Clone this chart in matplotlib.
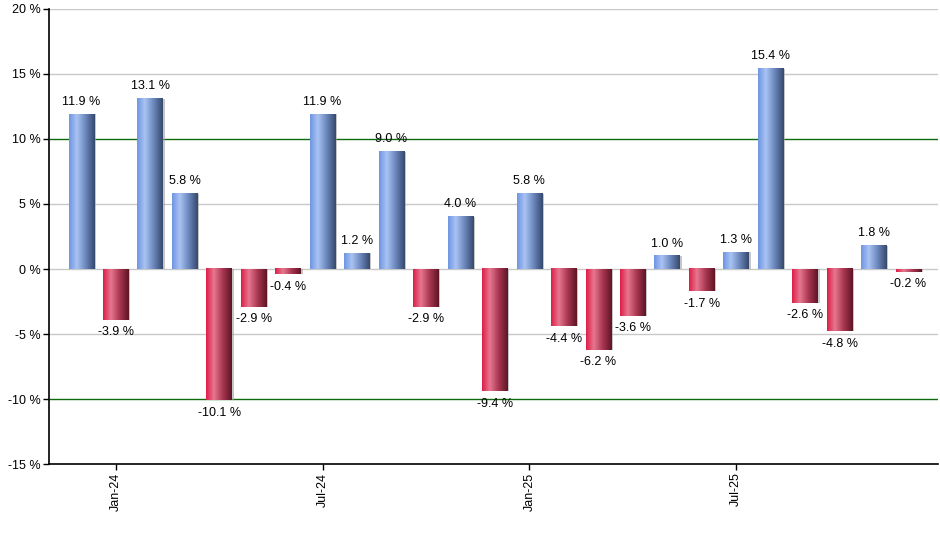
import numpy as np
import matplotlib.pyplot as plt
from matplotlib.colors import LinearSegmentedColormap

plt.rcParams['font.family'] = ['Liberation Sans', 'DejaVu Sans']

# monthly returns Dec-23 .. Dec-25
months = ["Dec-23", "Jan-24", "Feb-24", "Mar-24", "Apr-24", "May-24", "Jun-24",
          "Jul-24", "Aug-24", "Sep-24", "Oct-24", "Nov-24", "Dec-24",
          "Jan-25", "Feb-25", "Mar-25", "Apr-25", "May-25", "Jun-25",
          "Jul-25", "Aug-25", "Sep-25", "Oct-25", "Nov-25", "Dec-25"]
returns = [11.9, -3.9, 13.1, 5.8, -10.1, -2.9, -0.4, 11.9, 1.2, 9.0, -2.9, 4.0,
           -9.4, 5.8, -4.4, -6.2, -3.6, 1.0, -1.7, 1.3, 15.4, -2.6, -4.8, 1.8, -0.2]
tick_months = ["Jan-24", "Jul-24", "Jan-25", "Jul-25"]
yticks = [-15, -10, -5, 0, 5, 10, 15, 20]

blue_cmap = LinearSegmentedColormap.from_list(
    "b", [(0, "#6f96e2"), (0.3, "#a9c3f3"), (0.65, "#6a86bb"), (1, "#36496e")])
red_cmap = LinearSegmentedColormap.from_list(
    "r", [(0, "#dc1f48"), (0.3, "#e7768f"), (0.65, "#a83650"), (1, "#5e1526")])

fig = plt.figure(figsize=(9.4, 5.5), dpi=100)
ax = fig.add_axes([0.052, 0.156, 0.946, 0.828])

x = np.arange(len(returns))
w = 0.74
grad = np.linspace(0, 1, 64).reshape(1, -1)

for xi, v in zip(x, returns):
    cmap = blue_cmap if v >= 0 else red_cmap
    # soft shadow on the right
    ax.bar(xi + 0.05, v, width=w, color="#a0a0a0", alpha=0.6, zorder=2)
    lo, hi = min(0, v), max(0, v)
    ax.imshow(grad, cmap=cmap, aspect="auto",
              extent=(xi - w / 2, xi + w / 2, lo, hi), zorder=3)
    if v >= 0:
        ax.text(xi, v + 0.5, f"{v:.1f} %", ha="center", va="bottom", fontsize=9, zorder=4)
    else:
        ax.text(xi, v - 0.5, f"{v:.1f} %", ha="center", va="top", fontsize=9, zorder=4)

for yv in yticks:
    if yv == -15:
        continue
    col = "#0d6a0d" if abs(yv) == 10 else "#c8c8c8"
    ax.axhline(yv, color=col, lw=1, zorder=1)

ax.set_xlim(-0.94, 24.86)
ax.set_ylim(-15, 20)
ax.set_yticks(yticks)
ax.set_yticklabels([f"{t} %" for t in yticks], fontsize=9)
ax.set_xticks([months.index(m) for m in tick_months])
ax.set_xticklabels(tick_months, rotation=90, fontsize=9)
ax.tick_params(axis="both", length=4, width=1, color="black", pad=2)
ax.spines["top"].set_visible(False)
ax.spines["right"].set_visible(False)
ax.spines["left"].set_linewidth(1.2)
ax.spines["bottom"].set_linewidth(1.2)

fig.savefig("out.png", dpi=100)
